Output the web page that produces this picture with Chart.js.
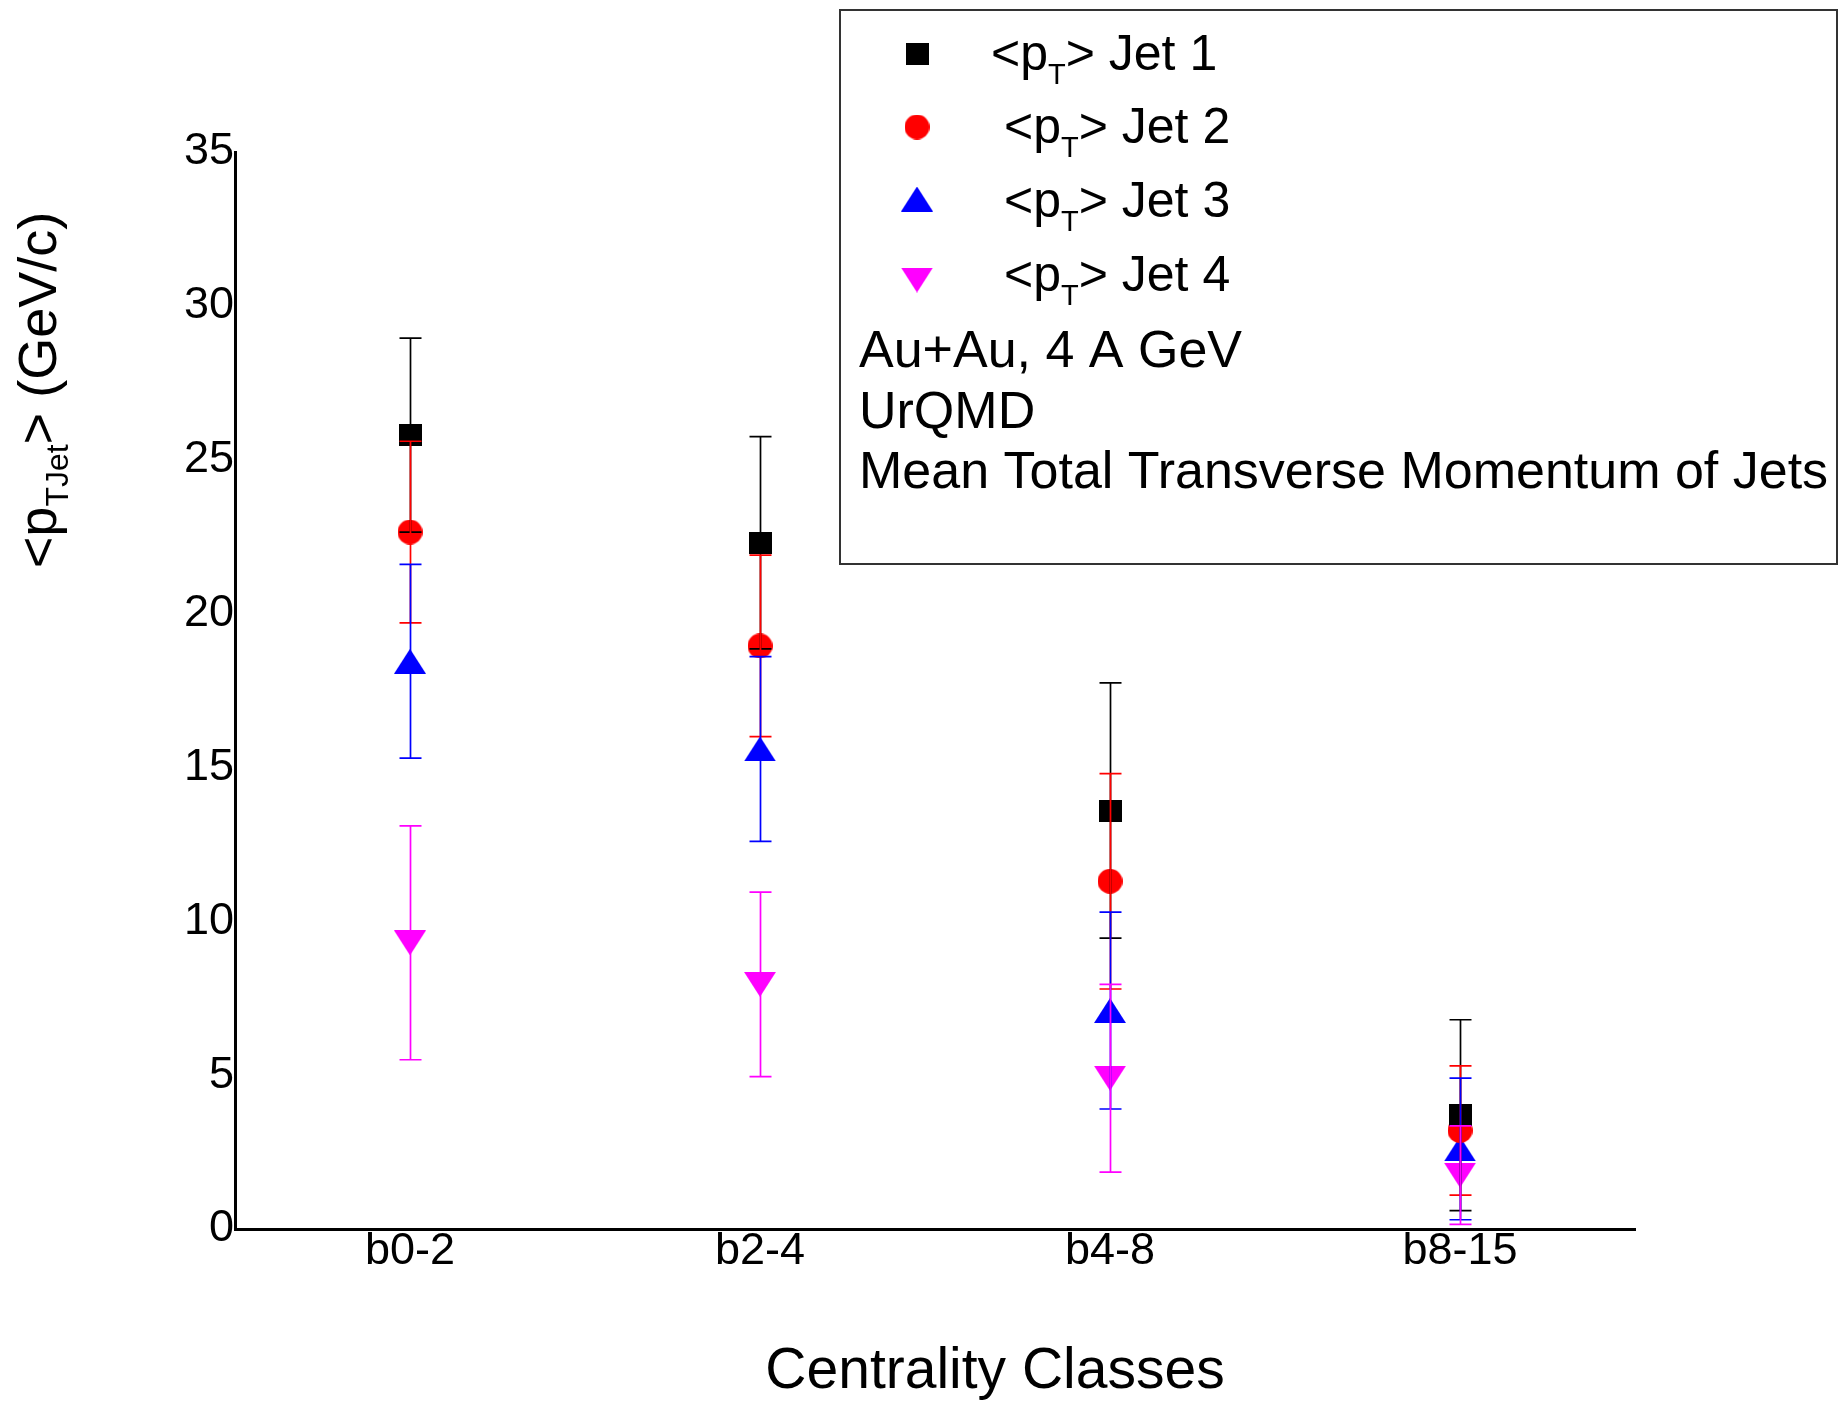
<!DOCTYPE html>
<html>
<head>
<meta charset="utf-8">
<title>Mean Total Transverse Momentum of Jets</title>
<script src="https://cdn.jsdelivr.net/npm/chart.js@4.4.1/dist/chart.umd.min.js"></script>
<style>
  html, body { margin: 0; padding: 0; background: #fff; }
  #wrap { width: 1842px; height: 1401px; }
</style>
</head>
<body>
<div id="wrap"><canvas id="jets" width="1842" height="1401"></canvas></div>
<script>
/* mean pT of jets per centrality class, UrQMD Au+Au 4 A GeV */
var CLASSES = ['b0-2', 'b2-4', 'b4-8', 'b8-15'];
var Y_TICKS = [0, 5, 10, 15, 20, 25, 30, 35];

var JET1 = [25.8, 22.3, 13.6, 3.7];
var JET1_ERR = [3.15, 3.45, 4.15, 3.1];
var JET2 = [22.65, 18.95, 11.3, 3.2];
var JET2_ERR = [2.95, 2.95, 3.5, 2.1];
var JET3 = [18.45, 15.6, 7.1, 2.6];
var JET3_ERR = [3.15, 3.0, 3.2, 2.3];
var JET4 = [9.3, 7.95, 4.9, 1.75];
var JET4_ERR = [3.8, 3.0, 3.05, 1.6];

var FONT = "'Liberation Sans', Arial, Helvetica, sans-serif";
var BLACK = '#000000', RED = '#ff0000', BLUE = '#0000ff', MAGENTA = '#ff00ff';

// marker sprites, used both in the plot and in the key
function sprite(kind, color) {
  var c = document.createElement('canvas');
  var w = 23, h = 22;
  if (kind === 'circle') { w = 25; h = 25; }
  if (kind === 'up' || kind === 'down') { w = 32; h = 25; }
  c.width = w; c.height = h;
  var g = c.getContext('2d');
  g.fillStyle = color;
  g.beginPath();
  if (kind === 'square') g.rect(0, 0, w, h);
  else if (kind === 'circle') g.arc(w / 2, h / 2, w / 2, 0, Math.PI * 2);
  else if (kind === 'up') { g.moveTo(w / 2, 0); g.lineTo(w, h); g.lineTo(0, h); }
  else { g.moveTo(0, 0); g.lineTo(w, 0); g.lineTo(w / 2, h); }
  g.closePath();
  g.fill();
  return c;
}

var SERIES = [
  { n: '1', data: JET1, err: JET1_ERR, color: BLACK, mark: sprite('square', BLACK) },
  { n: '2', data: JET2, err: JET2_ERR, color: RED, mark: sprite('circle', RED) },
  { n: '3', data: JET3, err: JET3_ERR, color: BLUE, mark: sprite('up', BLUE) },
  { n: '4', data: JET4, err: JET4_ERR, color: MAGENTA, mark: sprite('down', MAGENTA) }
];

/* ---------- vertical error bars with caps ---------- */
var errorBars = {
  id: 'errorBars',
  afterDatasetsDraw: function (chart) {
    var ctx = chart.ctx, y = chart.scales.y;
    ctx.save();
    ctx.lineWidth = 1.7;
    chart.data.datasets.forEach(function (ds, i) {
      var meta = chart.getDatasetMeta(i);
      ctx.strokeStyle = ds.errColor;
      meta.data.forEach(function (pt, j) {
        var v = ds.data[j], e = ds.errors[j];
        var top = y.getPixelForValue(v + e), bot = y.getPixelForValue(v - e);
        var x = Math.round(pt.x) + 0.5;
        ctx.beginPath();
        ctx.moveTo(x, top); ctx.lineTo(x, bot);
        ctx.moveTo(x - 11, top); ctx.lineTo(x + 11, top);
        ctx.moveTo(x - 11, bot); ctx.lineTo(x + 11, bot);
        ctx.stroke();
      });
    });
    ctx.restore();
  }
};

// "<p" + subscript + rest, returns the end x
function ptLabel(ctx, x, base, size, sub, subSize, subDrop, rest) {
  ctx.font = size + 'px ' + FONT;
  ctx.fillText('<p', x, base);
  x += ctx.measureText('<p').width;
  ctx.font = subSize + 'px ' + FONT;
  ctx.fillText(sub, x, base + subDrop);
  x += ctx.measureText(sub).width;
  ctx.font = size + 'px ' + FONT;
  ctx.fillText(rest, x, base);
  return x + ctx.measureText(rest).width;
}

/* ---------- axis titles and the key box ---------- */
var decorations = {
  id: 'decorations',
  afterDraw: function (chart) {
    var ctx = chart.ctx;
    ctx.save();
    ctx.fillStyle = '#000';
    ctx.textAlign = 'left';
    ctx.textBaseline = 'alphabetic';

    // x title
    ctx.font = '57px ' + FONT;
    ctx.textAlign = 'center';
    ctx.fillText('Centrality Classes', 995, 1388);
    ctx.textAlign = 'left';

    // y title, rotated
    ctx.save();
    ctx.translate(56, 390);
    ctx.rotate(-Math.PI / 2);
    ctx.font = '54px ' + FONT;
    var w1 = ctx.measureText('<p').width;
    var w3 = ctx.measureText('> (GeV/c)').width;
    ctx.font = '32px ' + FONT;
    var w2 = ctx.measureText('TJet').width;
    ptLabel(ctx, -(w1 + w2 + w3) / 2, 0, 54, 'TJet', 32, 12, '> (GeV/c)');
    ctx.restore();

    // key box
    ctx.fillStyle = '#fff';
    ctx.fillRect(840, 10, 997, 554);
    ctx.strokeStyle = '#333';
    ctx.lineWidth = 2;
    ctx.strokeRect(840, 10, 997, 554);

    var rows = [54, 127, 199, 280];
    var bases = [70, 143, 217, 291];
    ctx.fillStyle = '#000';
    SERIES.forEach(function (s, i) {
      var m = s.mark;
      ctx.drawImage(m, 917 - m.width / 2, rows[i] - m.height / 2);
      ptLabel(ctx, i === 0 ? 991 : 1004, bases[i], 50, 'T', 29, 14, '> Jet ' + s.n);
    });
    ctx.font = '52px ' + FONT;
    ctx.fillText('Au+Au, 4 A GeV', 859, 367);
    ctx.fillText('UrQMD', 859, 428);
    ctx.fillText('Mean Total Transverse Momentum of Jets', 859, 488);
    ctx.restore();
  }
};

new Chart(document.getElementById('jets'), {
  type: 'line',
  data: {
    labels: CLASSES,
    datasets: SERIES.map(function (s) {
      return {
        label: '<pT> Jet ' + s.n,
        data: s.data,
        errors: s.err,
        errColor: s.color,
        showLine: false,
        pointStyle: s.mark,
        pointRadius: 10,
        backgroundColor: s.color,
        borderColor: s.color
      };
    })
  },
  options: {
    responsive: false,
    animation: false,
    devicePixelRatio: 1,
    layout: { padding: { top: 152, right: 207, left: 0, bottom: 0 } },
    plugins: { legend: { display: false }, tooltip: { enabled: false } },
    scales: {
      x: {
        offset: true,
        grid: { display: false, drawTicks: false },
        border: { display: true, color: '#000', width: 3 },
        ticks: { color: '#000', font: { family: FONT, size: 45 }, padding: -4, maxRotation: 0 },
        afterFit: function (s) { s.height = 172; }
      },
      y: {
        min: 0, max: 35,
        grid: { display: false, drawTicks: false },
        border: { display: true, color: '#000', width: 3 },
        ticks: { color: '#000', font: { family: FONT, size: 45 }, padding: 1 },
        afterBuildTicks: function (s) { s.ticks = Y_TICKS.map(function (v) { return { value: v }; }); },
        afterFit: function (s) { s.width = 235; }
      }
    }
  },
  plugins: [errorBars, decorations]
});
</script>
</body>
</html>
